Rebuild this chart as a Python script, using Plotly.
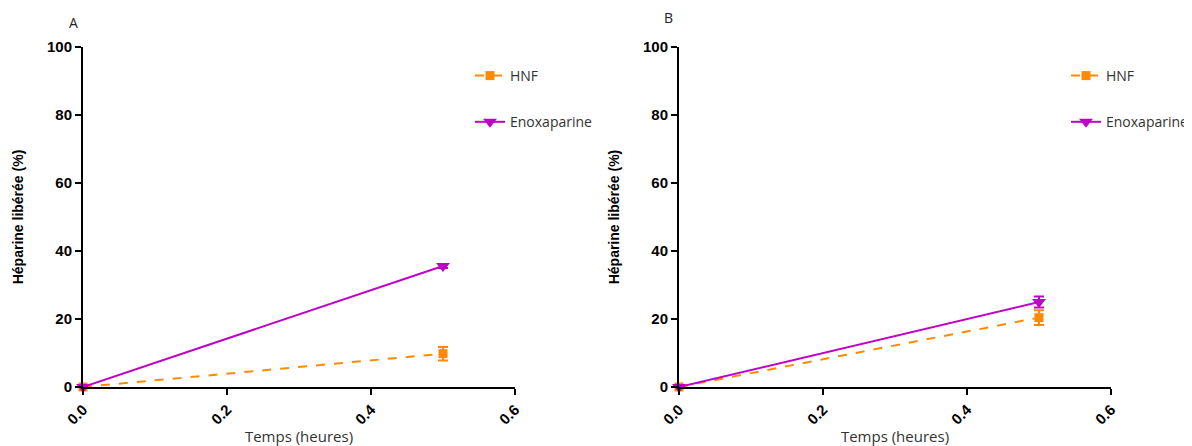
import plotly.graph_objects as go

time_h = [0.0, 0.5]
hnf_a = [0.0, 9.8]
hnf_a_err = [0.0, 2.0]
enox_a = [0.0, 35.6]
enox_a_err = [0.0, 0.6]
hnf_b = [0.0, 20.4]
hnf_b_err = [0.0, 2.2]
enox_b = [0.0, 25.0]
enox_b_err = [0.0, 1.6]
y_ticks = [0, 20, 40, 60, 80, 100]
x_ticks = [0.0, 0.2, 0.4, 0.6]
x_ticklabels = ["0.0", "0.2", "0.4", "0.6"]

ORANGE = "#FF8A00"
PURPLE = "#C000C8"
OFF = 8  # page body margin
W, H = 1192 - OFF, 446 - OFF


def px(x):
    return (x - OFF) / W


def py(y):
    return 1 - (y - OFF) / H


fig = go.Figure()


def add_pair(xa, ya, hnf, hnf_err, enox, enox_err, legend):
    fig.add_trace(go.Scatter(
        x=time_h, y=hnf, xaxis=xa, yaxis=ya, name="HNF", legend=legend,
        legendgroup=legend + "h", mode="lines+markers", cliponaxis=False,
        line=dict(color=ORANGE, width=2, dash="dash"),
        marker=dict(symbol="square", size=9, color=ORANGE),
        error_y=dict(type="data", array=hnf_err, color=ORANGE, thickness=2, width=5)))
    fig.add_trace(go.Scatter(
        x=time_h, y=enox, xaxis=xa, yaxis=ya, name="Enoxaparine", legend=legend,
        legendgroup=legend + "e", mode="lines+markers", cliponaxis=False,
        line=dict(color=PURPLE, width=2),
        marker=dict(symbol="triangle-down", size=12, color=PURPLE),
        error_y=dict(type="data", array=enox_err, color=PURPLE, thickness=2, width=5)))


add_pair("x", "y", hnf_a, hnf_a_err, enox_a, enox_a_err, "legend")
add_pair("x2", "y2", hnf_b, hnf_b_err, enox_b, enox_b_err, "legend2")

ydom = [py(387), py(47)]
tickfont_b = dict(family="Liberation Sans, Arial", size=15, color="black", weight="bold")


def xaxis_cfg(d0, d1, anchor):
    return dict(domain=[px(d0), px(d1)], anchor=anchor, range=[0, 0.6],
                tickvals=x_ticks, ticktext=x_ticklabels, tickangle=-45, automargin=False,
                showline=True, linecolor="black", linewidth=2, ticks="outside",
                ticklen=6, tickwidth=2, tickcolor="black", showgrid=False, zeroline=False,
                tickfont=tickfont_b,
                title=dict(text="Temps (heures)", standoff=3,
                           font=dict(family="Open Sans, Arial", size=15, color="#333333")))


def yaxis_cfg(anchor):
    return dict(domain=ydom, anchor=anchor, range=[0, 100], tickvals=y_ticks, automargin=False,
                showline=True, linecolor="black", linewidth=2, ticks="outside",
                ticklen=6, tickwidth=2, tickcolor="black", showgrid=False, zeroline=False,
                tickfont=tickfont_b,
                title=dict(text="Héparine libérée (%)", standoff=20,
                           font=dict(family="Liberation Sans, Arial", size=14, color="black", weight="bold")))


legfont = dict(family="Open Sans, Arial", size=14, color="#333333")
fig.update_layout(
    width=W, height=H, margin=dict(l=0, r=0, t=0, b=0, autoexpand=False),
    paper_bgcolor="white", plot_bgcolor="white",
    xaxis=xaxis_cfg(83, 515, "y"), yaxis=yaxis_cfg("x"),
    xaxis2=xaxis_cfg(679, 1111, "y2"), yaxis2=yaxis_cfg("x2"),
    legend=dict(x=px(470), y=py(60), xanchor="left", yanchor="top",
                font=legfont, tracegroupgap=25, bgcolor="rgba(0,0,0,0)"),
    legend2=dict(x=px(1066), y=py(60), xanchor="left", yanchor="top",
                 font=legfont, tracegroupgap=25, bgcolor="rgba(0,0,0,0)"),
    annotations=[
        dict(text="A", x=px(73), y=py(22), xref="paper", yref="paper",
             xanchor="center", yanchor="middle",
             showarrow=False, font=dict(family="Open Sans, Arial", size=14, color="#222")),
        dict(text="B", x=px(669), y=py(18), xref="paper", yref="paper",
             xanchor="center", yanchor="middle",
             showarrow=False, font=dict(family="Open Sans, Arial", size=14, color="#222")),
    ],
)

fig.write_html("out.html")
